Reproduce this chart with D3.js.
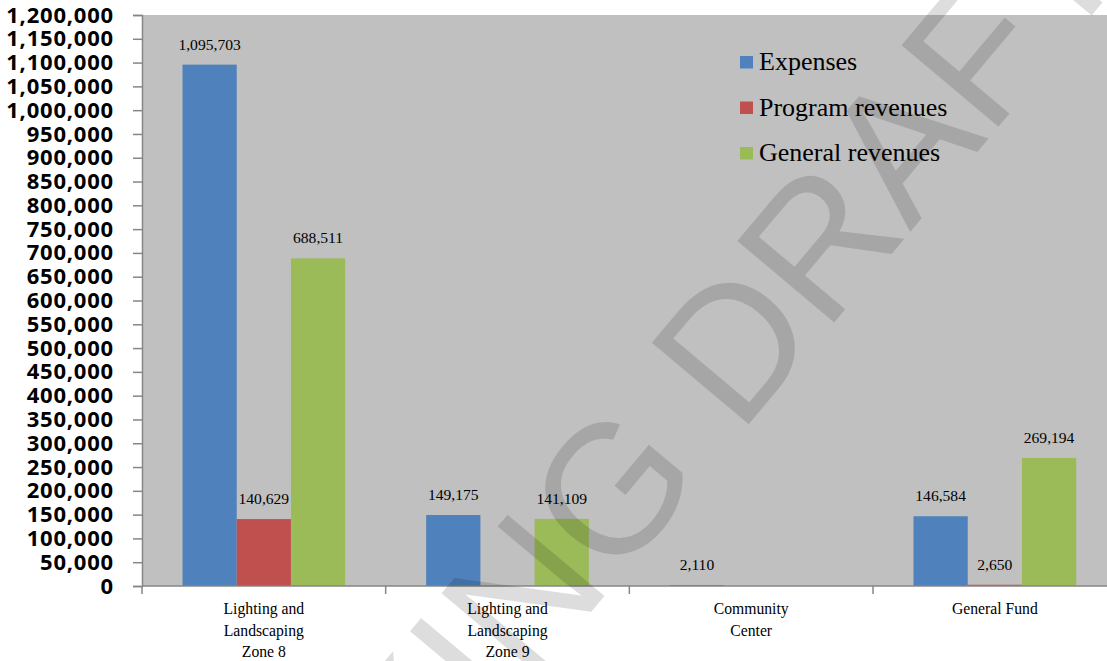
<!DOCTYPE html>
<html>
<head>
<meta charset="utf-8">
<script src="https://cdn.jsdelivr.net/npm/d3@7"></script>
<style>
  html, body { margin: 0; padding: 0; background: #ffffff; }
  svg { display: block; }
</style>
</head>
<body>
<svg id="chart" width="1107" height="661"></svg>
<script>
// ---- Data ----
const categories = ["Lighting and Landscaping Zone 8", "Lighting and Landscaping Zone 9", "Community Center", "General Fund"];
const categoryLines = [["Lighting and", "Landscaping", "Zone 8"], ["Lighting and", "Landscaping", "Zone 9"], ["Community", "Center"], ["General Fund"]];
const seriesNames = ["Expenses", "Program revenues", "General revenues"];
const expenses = [1095703, 149175, 2110, 146584];
const programRevenues = [140629, null, null, 2650];
const generalRevenues = [688511, 141109, null, 269194];
const yTickValues = [0, 50000, 100000, 150000, 200000, 250000, 300000, 350000, 400000, 450000, 500000, 550000,
  600000, 650000, 700000, 750000, 800000, 850000, 900000, 950000, 1000000, 1050000, 1100000, 1150000, 1200000];
const seriesColors = ["#4F81BD", "#C0504D", "#9BBB59"];
const watermarkText = "WORKING DRAFT";

// ---- Layout ----
const svg = d3.select("#chart");
const W = 1107, H = 661;
const plotLeft = 142, plotTop = 15, plotBottom = 586, plotRight = 1116.7;

const x = d3.scaleBand().domain(categories).range([plotLeft, plotRight]).padding(0);
const bw = x.bandwidth();
const xs = d3.scaleBand().domain(seriesNames).range([40.5, bw - 40.5]).padding(0);
const y = d3.scaleLinear().domain([0, 1200000]).range([plotBottom, plotTop]);
const color = d3.scaleOrdinal().domain(seriesNames).range(seriesColors);

const seriesValues = [expenses, programRevenues, generalRevenues];
const table = [];
categories.forEach((c, i) => {
  seriesNames.forEach((s, j) => {
    table.push({ cat: c, series: s, value: seriesValues[j][i] });
  });
});

// plot background
svg.append("rect")
  .attr("x", plotLeft).attr("y", plotTop)
  .attr("width", W - plotLeft).attr("height", plotBottom - plotTop)
  .attr("fill", "#C0C0C0");

// bars
svg.append("g").selectAll("rect")
  .data(table.filter(d => d.value != null))
  .join("rect")
  .attr("x", d => x(d.cat) + xs(d.series))
  .attr("width", xs.bandwidth())
  .attr("y", d => y(d.value))
  .attr("height", d => y(0) - y(d.value))
  .attr("fill", d => color(d.series));

// value labels
svg.append("g").selectAll("text")
  .data(table.filter(d => d.value != null))
  .join("text")
  .attr("x", d => x(d.cat) + xs(d.series) + xs.bandwidth() / 2)
  .attr("y", d => y(d.value) - 15)
  .attr("text-anchor", "middle")
  .attr("font-family", "'Liberation Serif', 'Times New Roman', serif")
  .attr("font-size", "15.6px")
  .attr("fill", "#000")
  .text(d => d3.format(",")(d.value));

// y axis
const yAxis = svg.append("g")
  .attr("transform", `translate(${plotLeft},0)`)
  .call(d3.axisLeft(y).tickValues(yTickValues).tickSize(9).tickPadding(19).tickFormat(d3.format(",")));
yAxis.select(".domain").attr("stroke", "#868686").attr("stroke-width", 1.5);
yAxis.selectAll(".tick line").attr("stroke", "#868686").attr("stroke-width", 1.5);
yAxis.selectAll(".tick text")
  .attr("font-family", "'Open Sans', sans-serif")
  .attr("font-weight", 700)
  .attr("font-size", "22px")
  .attr("letter-spacing", "0.8px")
  .attr("fill", "#000");

// x axis line and ticks
const xAxisG = svg.append("g");
xAxisG.append("line")
  .attr("x1", plotLeft).attr("x2", W)
  .attr("y1", y(0)).attr("y2", y(0))
  .attr("stroke", "#868686").attr("stroke-width", 1.5);
xAxisG.selectAll("line.tk")
  .data(categories)
  .join("line")
  .attr("class", "tk")
  .attr("x1", d => x(d)).attr("x2", d => x(d))
  .attr("y1", y(0)).attr("y2", y(0) + 8)
  .attr("stroke", "#868686").attr("stroke-width", 1.5);

// category labels
const catLab = svg.append("g").selectAll("text")
  .data(categories)
  .join("text")
  .attr("x", d => x(d) + bw / 2)
  .attr("y", 614)
  .attr("text-anchor", "middle")
  .attr("font-family", "'Liberation Serif', 'Times New Roman', serif")
  .attr("font-size", "15.7px")
  .attr("fill", "#000");
catLab.selectAll("tspan")
  .data((d, i) => categoryLines[i])
  .join("tspan")
  .attr("x", function () { return d3.select(this.parentNode).attr("x"); })
  .attr("dy", (d, i) => i === 0 ? 0 : 21.7)
  .text(d => d);

// legend
const legend = svg.append("g").attr("transform", "translate(740,0)");
const legendRowY = [70, 115.5, 161];
seriesNames.forEach((s, i) => {
  legend.append("rect")
    .attr("x", 0).attr("y", legendRowY[i] - 14)
    .attr("width", 13).attr("height", 12.5)
    .attr("fill", color(s));
  legend.append("text")
    .attr("x", 19).attr("y", legendRowY[i])
    .attr("font-family", "'Liberation Serif', 'Times New Roman', serif")
    .attr("font-size", "26px")
    .attr("fill", "#000")
    .text(s);
});

// watermark
svg.append("text")
  .attr("transform", "translate(128,1164) rotate(-50)")
  .attr("font-family", "'Liberation Sans', Arial, sans-serif")
  .attr("font-size", "184px")
  .attr("fill", "#000")
  .attr("fill-opacity", 0.135)
  .text(watermarkText);
</script>
</body>
</html>
